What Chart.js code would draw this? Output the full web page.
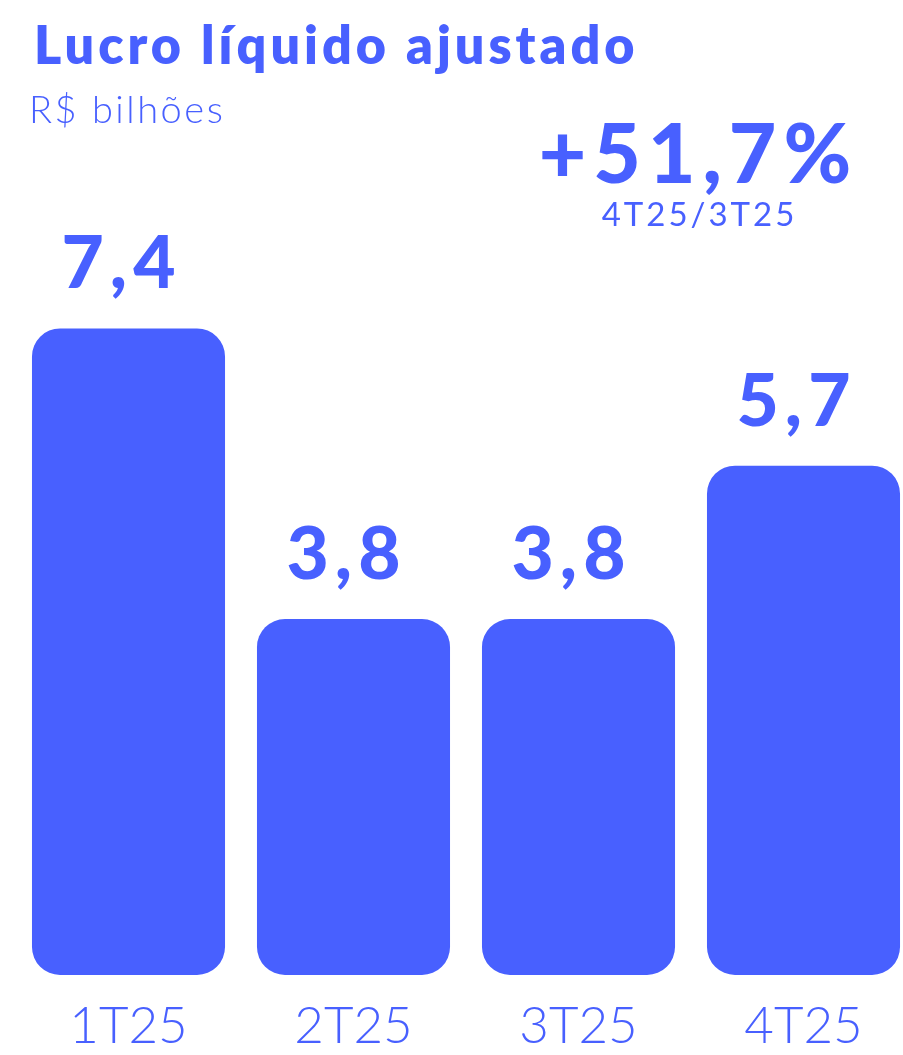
<!DOCTYPE html>
<html>
<head>
<meta charset="utf-8">
<script src="https://cdn.jsdelivr.net/npm/chart.js@4"></script>
<style>
  html, body { margin: 0; padding: 0; background: #fff; overflow: hidden; }
  #wrap { position: relative; width: 925px; height: 1055px; }
</style>
</head>
<body>
<div id="wrap"><canvas id="lucroChart"></canvas></div>
<script>
// Chart data
const quarters = ["1T25", "2T25", "3T25", "4T25"];
const lucro = [7.4, 3.8, 3.8, 5.7];
const valueLabels = ["7,4", "3,8", "3,8", "5,7"];

// Header texts
const titleText = "Lucro líquido ajustado";
const subtitleText = "R$ bilhões";
const growthText = "+51,7%";
const growthNote = "4T25/3T25";

const blue = "#4860ff";
const yMin = -0.61;

// text with letter spacing, x is the left edge or the center
function spacedText(ctx, text, x, y, font, spacing, center) {
  ctx.font = font;
  ctx.letterSpacing = spacing + "px";
  ctx.textAlign = "left";
  let w = ctx.measureText(text).width - spacing;
  ctx.fillText(text, center ? x - w / 2 : x, y);
}

// Draw title, subtitle, growth badge and the value above each bar
const textPlugin = {
  id: "texts",
  afterDatasetsDraw(chart) {
    const ctx = chart.ctx;
    ctx.save();
    ctx.fillStyle = blue;
    ctx.textBaseline = "alphabetic";

    spacedText(ctx, titleText, 34, 64, "800 52px Lato", 4, false);
    spacedText(ctx, subtitleText, 29, 123, "300 38px Lato", 2.5, false);
    spacedText(ctx, growthText, 695, 183, "900 82px Lato", 7, true);
    spacedText(ctx, growthNote, 698, 226, "400 33px Lato", 3, true);

    // value labels
    const meta = chart.getDatasetMeta(0);
    meta.data.forEach((bar, i) => {
      spacedText(ctx, valueLabels[i], bar.x - 10, bar.y - 40, "900 73px Lato", 6, true);
    });
    ctx.restore();
  },
};

const ctx = document.getElementById("lucroChart").getContext("2d");
new Chart(ctx, {
  type: "bar",
  data: {
    labels: quarters,
    datasets: [
      {
        data: lucro,
        base: yMin,
        backgroundColor: blue,
        borderRadius: 28,
        borderSkipped: false,
        barPercentage: 0.858,
        categoryPercentage: 1,
      },
    ],
  },
  options: {
    responsive: true,
    maintainAspectRatio: false,
    animation: false,
    layout: { padding: { top: 280, left: 16, right: 9, bottom: -23 } },
    plugins: {
      legend: { display: false },
      tooltip: { enabled: false },
    },
    scales: {
      x: {
        grid: { display: false, drawTicks: false },
        border: { display: false },
        ticks: {
          color: blue,
          padding: 26,
          font: { family: "Lato", size: 51, weight: "300", lineHeight: 1 },
        },
      },
      y: {
        display: false,
        min: yMin,
        max: 8,
      },
    },
  },
  plugins: [textPlugin],
});
</script>
</body>
</html>
